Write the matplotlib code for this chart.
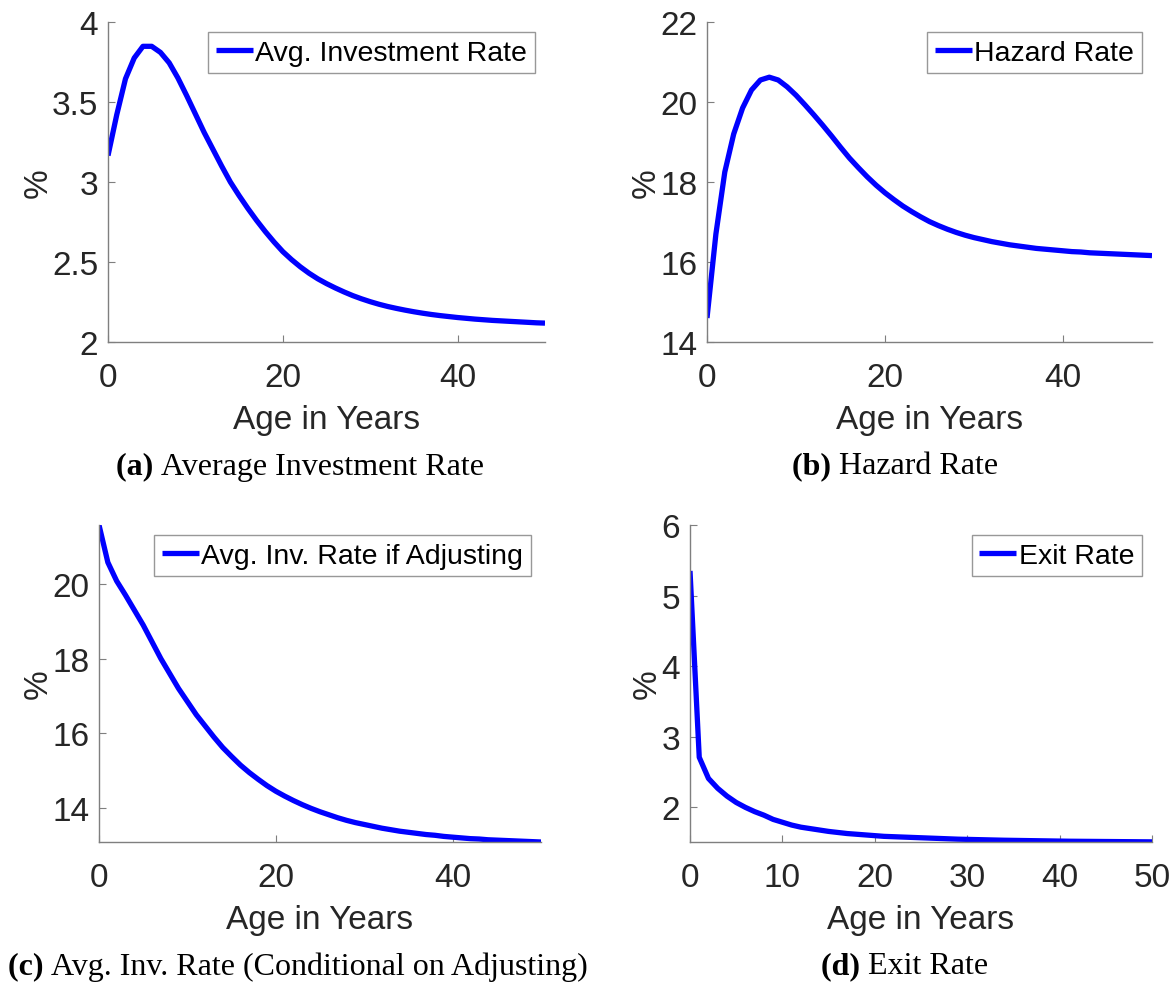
import matplotlib
matplotlib.use("Agg")
from matplotlib import pyplot as plt

# ages 0..50
ages = list(range(0, 51))

# (a) average investment rate, %
inv_rate = [3.165, 3.42, 3.645, 3.775, 3.848, 3.848, 3.81, 3.745, 3.65, 3.54,
            3.425, 3.31, 3.205, 3.10, 3.00, 2.915, 2.835, 2.76, 2.69, 2.625,
            2.565, 2.515, 2.47, 2.43, 2.395, 2.365, 2.338, 2.313, 2.29, 2.27,
            2.252, 2.236, 2.222, 2.21, 2.199, 2.189, 2.18, 2.172, 2.165, 2.159,
            2.153, 2.148, 2.143, 2.139, 2.135, 2.132, 2.129, 2.126, 2.123, 2.12,
            2.118]

# (b) hazard rate, %
hazard = [14.6, 16.7, 18.25, 19.2, 19.85, 20.3, 20.55, 20.62, 20.55, 20.38,
          20.17, 19.93, 19.68, 19.42, 19.15, 18.87, 18.6, 18.36, 18.13, 17.92,
          17.73, 17.56, 17.4, 17.26, 17.13, 17.01, 16.91, 16.82, 16.74, 16.67,
          16.61, 16.56, 16.51, 16.47, 16.43, 16.40, 16.37, 16.34, 16.32, 16.30,
          16.28, 16.26, 16.25, 16.23, 16.22, 16.21, 16.20, 16.19, 16.18, 16.17,
          16.16]

# (c) avg investment rate if adjusting, %
inv_adj = [21.58, 20.58, 20.08, 19.7, 19.3, 18.9, 18.45, 18.0, 17.6, 17.2,
           16.85, 16.5, 16.2, 15.9, 15.62, 15.38, 15.15, 14.95, 14.77, 14.6,
           14.45, 14.32, 14.2, 14.09, 13.99, 13.9, 13.82, 13.74, 13.67, 13.61,
           13.56, 13.51, 13.46, 13.42, 13.38, 13.35, 13.32, 13.29, 13.27, 13.24,
           13.22, 13.2, 13.18, 13.17, 13.15, 13.14, 13.13, 13.12, 13.11, 13.10,
           13.09]

# (d) exit rate, %
exit_rate = [5.35, 2.71, 2.41, 2.27, 2.16, 2.07, 2.00, 1.94, 1.89, 1.83,
             1.79, 1.75, 1.72, 1.70, 1.68, 1.66, 1.645, 1.63, 1.62, 1.61,
             1.60, 1.59, 1.585, 1.58, 1.575, 1.57, 1.565, 1.56, 1.555, 1.55,
             1.547, 1.544, 1.541, 1.538, 1.535, 1.533, 1.531, 1.529, 1.527, 1.525,
             1.523, 1.521, 1.52, 1.519, 1.518, 1.517, 1.516, 1.515, 1.514, 1.513,
             1.512]

series = [inv_rate, hazard, inv_adj, exit_rate]
legend_labels = ["Avg. Investment Rate", "Hazard Rate",
                 "Avg. Inv. Rate if Adjusting", "Exit Rate"]
ylims = [(2, 4), (14, 22), (13.09, 21.58), (1.51, 6)]
yticks = [[2, 2.5, 3, 3.5, 4], [14, 16, 18, 20, 22], [14, 16, 18, 20], [2, 3, 4, 5, 6]]
ytick_labels = [["2", "2.5", "3", "3.5", "4"], ["14", "16", "18", "20", "22"],
                ["14", "16", "18", "20"], ["2", "3", "4", "5", "6"]]
xticks = [[0, 20, 40], [0, 20, 40], [0, 20, 40], [0, 10, 20, 30, 40, 50]]
captions = [("(a)", "Average Investment Rate"), ("(b)", "Hazard Rate"),
            ("(c)", "Avg. Inv. Rate (Conditional on Adjusting)"), ("(d)", "Exit Rate")]

W, H = 1173, 987
# axes boxes in pixels: left, right, top, bottom
boxes = [(108, 545, 23, 343), (707, 1152, 23, 343),
         (99, 541, 526, 843), (690, 1152, 526, 843)]
caption_pos = [(300, 467), (895, 467), (298, 967), (905, 967)]

plt.rcParams['font.family'] = ['Liberation Sans', 'DejaVu Sans']
gray_txt = "#262626"
gray_ax = "#7f7f7f"

fig = plt.figure(figsize=(W / 100, H / 100), dpi=100)

for i in range(4):
    l, r, t, b = boxes[i]
    ax = fig.add_axes([l / W, 1 - b / H, (r - l) / W, (b - t) / H])
    ax.plot(ages, series[i], color=(0, 0, 1), linewidth=3.8, label=legend_labels[i],
            solid_capstyle='butt')
    ax.set_xlim(0, 50)
    ax.set_ylim(*ylims[i])
    ax.set_xticks(xticks[i])
    ax.set_yticks(yticks[i])
    ax.set_yticklabels(ytick_labels[i])
    for s in ["top", "right"]:
        ax.spines[s].set_visible(False)
    for s in ["left", "bottom"]:
        ax.spines[s].set_color(gray_ax)
        ax.spines[s].set_linewidth(1.0)
    ax.tick_params(direction='in', length=5, width=0.8, color=gray_ax,
                   labelsize=24, labelcolor=gray_txt)
    ax.tick_params(axis='x', pad=14.5)
    ax.tick_params(axis='y', pad=7)
    ax.set_xlabel("Age in Years", fontsize=24, color=gray_txt, labelpad=8)
    ax.set_ylabel("%", fontsize=24, color=gray_txt, labelpad=-1)
    leg = ax.legend(loc='upper right', fontsize=20.5, frameon=True, fancybox=False,
                    handlelength=1.3, handletextpad=0.1, borderpad=0.26,
                    borderaxespad=0.36)
    leg.get_frame().set_edgecolor(gray_ax)
    leg.get_frame().set_linewidth(1.0)

    # caption: bold tag followed by regular text, centred under the panel
    cx, cy = caption_pos[i]
    tag, name = captions[i]
    t1 = fig.text(0, 0, tag + " ", fontsize=23, fontweight='bold',
                  family='Liberation Serif', va='center')
    t2 = fig.text(0, 0, name, fontsize=23, family='Liberation Serif', va='center')
    fig.canvas.draw()
    rend = fig.canvas.get_renderer()
    w1 = t1.get_window_extent(rend).width
    w2 = t2.get_window_extent(rend).width
    x0 = cx - (w1 + w2) / 2
    t1.set_position((x0 / W, 1 - cy / H))
    t2.set_position(((x0 + w1) / W, 1 - cy / H))

fig.savefig("out.png", dpi=100)
